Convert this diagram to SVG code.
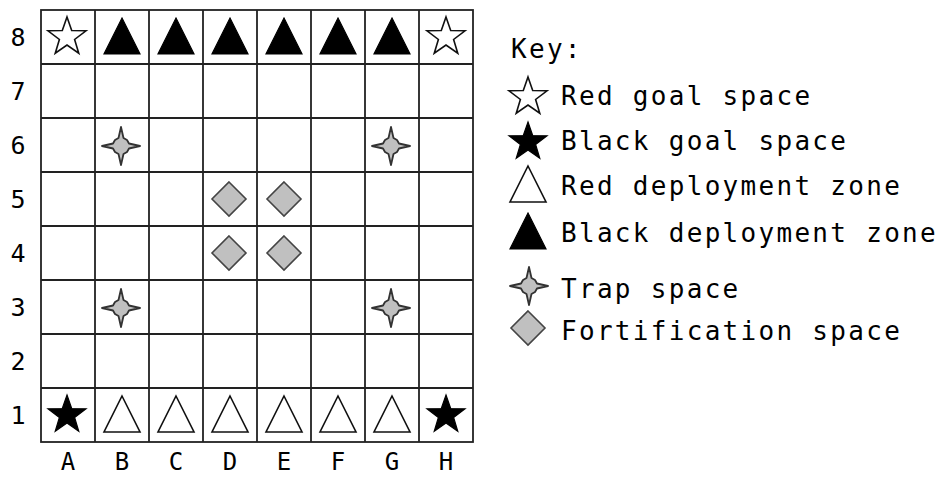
<svg xmlns="http://www.w3.org/2000/svg" xmlns:xlink="http://www.w3.org/1999/xlink" width="943" height="477" viewBox="0 0 943 477">
<style>
.grid{stroke:#222;stroke-width:1.8;fill:none}
.lbl{font-family:"DejaVu Sans Mono",monospace;font-size:25px;fill:#000;text-anchor:middle}
.col{font-family:"DejaVu Sans Mono",monospace;font-size:24px;fill:#000;text-anchor:middle}
.key{font-family:"DejaVu Sans Mono",monospace;font-size:26px;fill:#000;letter-spacing:2.3px}
</style>
<defs>
<polygon id="star" points="0,-20 4.7,-6.47 19.02,-6.18 7.61,2.47 11.76,16.18 0,8 -11.76,16.18 -7.61,2.47 -19.02,-6.18 -4.7,-6.47"/>
<polygon id="tri" points="0,-19 18,17 -18,17"/>
<polygon id="trap" points="0,-19 2.5,-8 6,-6 8,-2.5 19,0 8,2.5 6,6 2.5,8 0,19 -2.5,8 -6,6 -8,2.5 -19,0 -8,-2.5 -6,-6 -2.5,-8"/>
<polygon id="dia" points="0,-17 17,0 0,17 -17,0"/>
<g id="wstar"><use xlink:href="#star" fill="#fff" stroke="#111" stroke-width="1.6"/></g>
<g id="bstar"><use xlink:href="#star" fill="#000" stroke="#000" stroke-width="1.2"/></g>
<g id="wtri"><use xlink:href="#tri" fill="#fff" stroke="#111" stroke-width="1.6"/></g>
<g id="btri"><use xlink:href="#tri" fill="#000" stroke="#000" stroke-width="1.2"/></g>
<g id="wtrap"><use xlink:href="#trap" fill="#c0c0c0" stroke="#333" stroke-width="1.8" stroke-linejoin="round"/></g>
<g id="wdia"><use xlink:href="#dia" fill="#c0c0c0" stroke="#444" stroke-width="1.6"/></g>
</defs>
<rect width="943" height="477" fill="#fff"/>
<g id="board">
<rect class="grid" x="41" y="10" width="432" height="432"/>
<path class="grid" d="M95,10V442M149,10V442M203,10V442M257,10V442M311,10V442M365,10V442M419,10V442M41,64H473M41,118H473M41,172H473M41,226H473M41,280H473M41,334H473M41,388H473"/>
</g>
<g id="row-labels">
<text class="lbl" x="18" y="46">8</text>
<text class="lbl" x="18" y="100">7</text>
<text class="lbl" x="18" y="154">6</text>
<text class="lbl" x="18" y="208">5</text>
<text class="lbl" x="18" y="262">4</text>
<text class="lbl" x="18" y="316">3</text>
<text class="lbl" x="18" y="370">2</text>
<text class="lbl" x="18" y="424">1</text>
</g>
<g id="col-labels">
<text class="col" x="68" y="470">A</text>
<text class="col" x="122" y="470">B</text>
<text class="col" x="176" y="470">C</text>
<text class="col" x="230" y="470">D</text>
<text class="col" x="284" y="470">E</text>
<text class="col" x="338" y="470">F</text>
<text class="col" x="392" y="470">G</text>
<text class="col" x="446" y="470">H</text>
</g>
<g id="row8">
<use xlink:href="#wstar" x="67" y="37"/>
<use xlink:href="#btri" x="122" y="37"/>
<use xlink:href="#btri" x="176" y="37"/>
<use xlink:href="#btri" x="230" y="37"/>
<use xlink:href="#btri" x="284" y="37"/>
<use xlink:href="#btri" x="338" y="37"/>
<use xlink:href="#btri" x="392" y="37"/>
<use xlink:href="#wstar" x="446" y="37"/>
</g>
<g id="traps">
<use xlink:href="#wtrap" x="121" y="146"/>
<use xlink:href="#wtrap" x="391" y="146"/>
<use xlink:href="#wtrap" x="121" y="308"/>
<use xlink:href="#wtrap" x="391" y="308"/>
</g>
<g id="fortifications">
<use xlink:href="#wdia" x="229" y="199"/>
<use xlink:href="#wdia" x="284" y="199"/>
<use xlink:href="#wdia" x="229" y="253"/>
<use xlink:href="#wdia" x="284" y="253"/>
</g>
<g id="row1">
<use xlink:href="#bstar" x="67" y="415"/>
<use xlink:href="#wtri" x="122" y="415"/>
<use xlink:href="#wtri" x="176" y="415"/>
<use xlink:href="#wtri" x="230" y="415"/>
<use xlink:href="#wtri" x="284" y="415"/>
<use xlink:href="#wtri" x="338" y="415"/>
<use xlink:href="#wtri" x="392" y="415"/>
<use xlink:href="#bstar" x="446" y="415"/>
</g>
<g id="key">
<text class="key" x="511" y="58">Key:</text>
<use xlink:href="#wstar" x="528" y="97"/>
<text class="key" x="561" y="105">Red goal space</text>
<use xlink:href="#bstar" x="528" y="142"/>
<text class="key" x="561" y="150">Black goal space</text>
<use xlink:href="#wtri" x="528" y="185"/>
<text class="key" x="561" y="195">Red deployment zone</text>
<use xlink:href="#btri" x="528" y="232"/>
<text class="key" x="561" y="242">Black deployment zone</text>
<use xlink:href="#wtrap" x="529" y="286"/>
<text class="key" x="561" y="298">Trap space</text>
<use xlink:href="#wdia" x="528" y="328"/>
<text class="key" x="561" y="340">Fortification space</text>
</g>
</svg>
